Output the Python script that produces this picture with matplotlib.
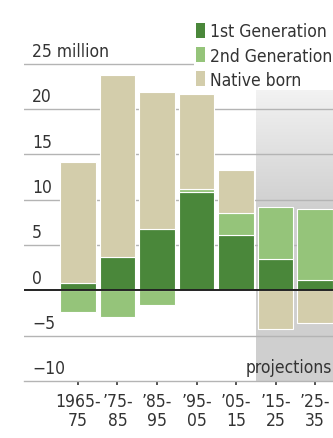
import numpy as np
import matplotlib
matplotlib.use("Agg")
import matplotlib.pyplot as plt
from matplotlib import font_manager
from matplotlib.patches import Patch

# pick a narrow sans if one is around
names = {f.name for f in font_manager.fontManager.ttflist}
if "Liberation Sans Narrow" in names:
    plt.rcParams["font.family"] = ["Liberation Sans Narrow", "DejaVu Sans"]
else:
    plt.rcParams["font.family"] = ["DejaVu Sans"]
    plt.rcParams["font.stretch"] = "condensed"

periods = ["1965-\n75", "\u201975-\n85", "\u201985-\n95", "\u201995-\n05",
           "\u201905-\n15", "\u201915-\n25", "\u201925-\n35"]
first_gen = [0.85, 3.7, 6.8, 10.8, 6.1, 3.45, 1.15]
second_gen = [-2.4, -2.95, -1.6, 0.35, 2.4, 5.75, 7.85]
native = [13.35, 20.0, 15.1, 10.45, 4.8, -4.25, -3.6]
yticks = [25, 20, 15, 10, 5, 0, -5, -10]
ytick_labels = ["25 million", "20", "15", "10", "5", "0", "\u22125", "\u221210"]

series = [("1st Generation", first_gen, "#4a873a"),
          ("2nd Generation", second_gen, "#95c47a"),
          ("Native born", native, "#d3cdab")]

fig = plt.figure(figsize=(3.33, 4.39), dpi=100)
ax = fig.add_axes([0.072, 0.13, 0.928, 0.795])
x = np.arange(len(periods))

# shaded projections block with soft top edge
grad = np.linspace(0, 1, 200).reshape(-1, 1)
shade = np.clip(grad / 0.4, 0, 1)
cols = 0.95 - 0.135 * shade
img = np.dstack([cols, cols, cols])
ax.imshow(img, extent=[4.5, 6.6, -10, 22.0], origin="upper",
          aspect="auto", zorder=0, interpolation="bilinear")

for v in yticks[:-1]:
    if v == 0:
        continue
    ax.axhline(v, color="#b4b4b4", lw=1.0, zorder=1)

pos_bottom = np.zeros(len(x))
neg_bottom = np.zeros(len(x))
for name, vals, c in series:
    vals = np.array(vals)
    bottom = np.where(vals >= 0, pos_bottom, neg_bottom)
    ax.bar(x, vals, 0.9, bottom=bottom, color=c, edgecolor="white",
           linewidth=0.8, zorder=2)
    pos_bottom += np.where(vals >= 0, vals, 0)
    neg_bottom += np.where(vals < 0, vals, 0)

ax.axhline(0, color="#222222", lw=1.4, zorder=3)

for v, lab in zip(yticks, ytick_labels):
    ax.text(0.026, v + 0.4, lab, transform=ax.get_yaxis_transform(),
            fontsize=12.5, color="#333333", va="bottom", ha="left", zorder=4)

ax.text(0.998, -9.5, "projections", fontsize=12.5, color="#333333",
        ha="right", va="bottom", zorder=4,
        transform=ax.get_yaxis_transform())

ax.set_xlim(-1.365, 6.45)
ax.set_ylim(-10, 28.5)
ax.set_xticks(x)
ax.set_xticklabels(periods, fontsize=12.5, color="#333333", linespacing=1.05)
ax.set_yticks([])
ax.tick_params(axis="x", length=3, width=1.2, color="#333333", pad=5)
for s in ["top", "right", "left"]:
    ax.spines[s].set_visible(False)
ax.spines["bottom"].set_color("#b4b4b4")
ax.spines["bottom"].set_linewidth(1.0)

handles = [Patch(facecolor=c, edgecolor="none") for _, _, c in series]
leg = ax.legend(handles, [s[0] for s in series], loc="upper left",
                bbox_to_anchor=(0.55, 1.032), frameon=True, fontsize=12.5,
                handlelength=0.55, handleheight=1.0, handletextpad=0.3,
                labelspacing=0.35, borderpad=0.1, borderaxespad=0)
leg.get_frame().set_facecolor("white")
leg.get_frame().set_edgecolor("none")
leg.get_frame().set_alpha(1)
leg.set_zorder(5)
for t in leg.get_texts():
    t.set_color("#333333")

fig.savefig("out.png", dpi=100)
